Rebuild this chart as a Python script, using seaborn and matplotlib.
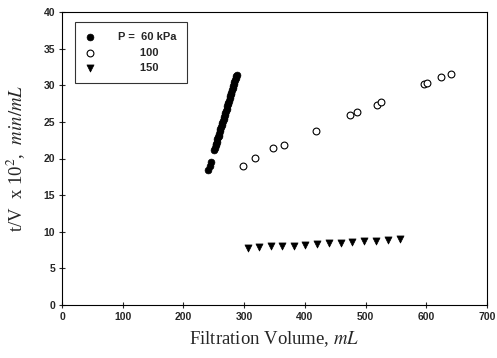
import matplotlib
matplotlib.use("Agg")
import matplotlib.pyplot as plt
import seaborn as sns
import pandas as pd

# ---- data ----
v_60 = [241, 243, 245, 251, 252, 253, 254, 255, 256, 257, 258, 259, 260, 261, 262,
        263, 264, 265, 266, 267, 268, 269, 270, 271, 272, 273, 274, 275, 276, 277,
        278, 279, 280, 281, 282, 283, 284, 285, 286, 287, 288]
tv_60 = [18.4, 19.0, 19.5, 21.2, 21.5, 21.8, 22.0, 22.3, 22.6, 22.9, 23.1, 23.4, 23.7,
         24.0, 24.3, 24.6, 24.8, 25.1, 25.4, 25.7, 25.9, 26.2, 26.5, 26.8, 27.1, 27.4,
         27.6, 27.9, 28.2, 28.5, 28.8, 29.0, 29.3, 29.6, 29.9, 30.2, 30.4, 30.7, 31.0,
         31.2, 31.4]

v_100 = [298, 318, 348, 366, 418, 474, 486, 519, 526, 596, 601, 624, 641]
tv_100 = [19.0, 20.1, 21.4, 21.9, 23.8, 25.9, 26.3, 27.3, 27.7, 30.2, 30.3, 31.1, 31.5]

v_150 = [306, 325, 344, 363, 382, 401, 420, 440, 459, 478, 497, 517, 537, 556]
tv_150 = [7.8, 7.9, 8.0, 8.0, 8.1, 8.2, 8.3, 8.4, 8.5, 8.6, 8.7, 8.8, 8.9, 9.0]

labels = ["P =  60 kPa", "       100", "       150"]
x_ticks = [0, 100, 200, 300, 400, 500, 600, 700]
y_ticks = [0, 5, 10, 15, 20, 25, 30, 35, 40]

sns.set_style("ticks")
plt.rcParams["font.family"] = ["Liberation Sans", "DejaVu Sans"]
plt.rcParams["mathtext.fontset"] = "stix"

fig = plt.figure(figsize=(4.97, 3.58), dpi=100)
ax = fig.add_axes([62 / 497, 1 - 305 / 358, 425 / 497, 293 / 358])

df60 = pd.DataFrame({"V": v_60, "tV": tv_60})
df100 = pd.DataFrame({"V": v_100, "tV": tv_100})
df150 = pd.DataFrame({"V": v_150, "tV": tv_150})

sns.scatterplot(data=df60, x="V", y="tV", ax=ax, marker="o", s=24,
                color="black", edgecolor="black", linewidth=0.5, label=labels[0])
sns.scatterplot(data=df100, x="V", y="tV", ax=ax, marker="o", s=24,
                facecolor="white", edgecolor="black", linewidth=0.8, label=labels[1])
sns.scatterplot(data=df150, x="V", y="tV", ax=ax, marker="v", s=26,
                color="black", edgecolor="black", linewidth=0.5, label=labels[2])

ax.set_xlim(0, 700)
ax.set_ylim(0, 40)
ax.set_xticks(x_ticks)
ax.set_yticks(y_ticks)
ax.tick_params(axis="both", direction="inout", length=4, width=0.8,
               labelsize=7.5, pad=3)
for lab in ax.get_xticklabels() + ax.get_yticklabels():
    lab.set_fontweight("bold")
for s in ax.spines.values():
    s.set_visible(True)
    s.set_linewidth(0.8)
    s.set_color("black")

ax.set_xlabel("Filtration Volume, $\\it{mL}$", fontsize=13.5,
              family="Liberation Serif", labelpad=5)
ax.set_ylabel("t/V  x 10$^2$,  $\\it{min/mL}$", fontsize=13.5,
              family="Liberation Serif", labelpad=11)

leg = ax.legend(loc="upper left", bbox_to_anchor=(0.03, 0.966), frameon=True,
                fancybox=False, shadow=False,
                prop={"weight": "bold", "size": 8},
                borderpad=0.9, handletextpad=2.0, labelspacing=0.5,
                borderaxespad=0, handlelength=1.0)
leg.get_frame().set_edgecolor("black")
leg.get_frame().set_linewidth(0.8)

fig.savefig("out.png", dpi=100)
